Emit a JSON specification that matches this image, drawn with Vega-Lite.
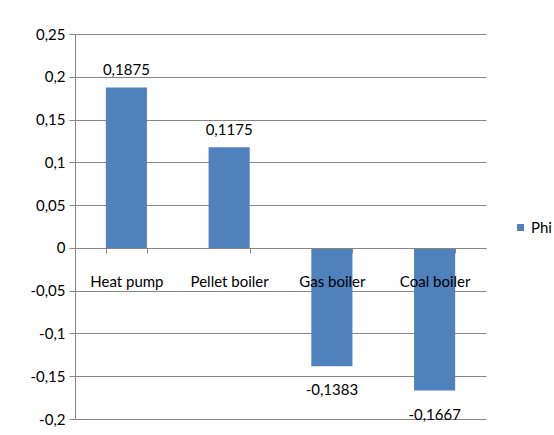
{
  "$schema": "https://vega.github.io/schema/vega-lite/v6.json",
  "width": 411,
  "height": 385,
  "autosize": {"type": "none"},
  "padding": {"left": 75, "top": 34, "right": 68, "bottom": 16},
  "background": "white",
  "config": {
    "locale": {"number": {"decimal": ",", "thousands": ".", "grouping": [3], "currency": ["", ""], "minus": "-"}},
    "view": {"stroke": null},
    "font": "Lato"
  },
  "data": {
    "values": [
      {"System": "Heat pump", "Phi": 0.1875, "Series": "Phi"},
      {"System": "Pellet boiler", "Phi": 0.1175, "Series": "Phi"},
      {"System": "Gas boiler", "Phi": -0.1383, "Series": "Phi"},
      {"System": "Coal boiler", "Phi": -0.1667, "Series": "Phi"}
    ]
  },
  "encoding": {
    "x": {
      "field": "System", "type": "nominal", "sort": null,
      "scale": {"paddingInner": 0.6, "paddingOuter": 0.3},
      "axis": {
        "title": null, "orient": "bottom", "offset": -171, "labelAngle": 0,
        "tickBand": "extent", "tickSize": 5, "labelPadding": 21,
        "labelFontSize": 15, "labelColor": "#000000",
        "domainColor": "#868686", "tickColor": "#868686", "grid": false, "zindex": 1
      }
    },
    "y": {
      "field": "Phi", "type": "quantitative",
      "scale": {"domain": [-0.2, 0.25], "nice": false},
      "axis": {
        "title": null, "values": [-0.2, -0.15, -0.1, -0.05, 0, 0.05, 0.1, 0.15, 0.2, 0.25],
        "format": "~r", "grid": true, "gridColor": "#868686", "domainColor": "#868686",
        "tickColor": "#868686", "tickSize": 6, "labelPadding": 4,
        "labelFontSize": 15, "labelColor": "#000000"
      }
    }
  },
  "layer": [
    {
      "mark": {"type": "bar"},
      "encoding": {
        "color": {
          "field": "Series", "type": "nominal",
          "scale": {"range": ["#4f81bd"]},
          "legend": {
            "title": null, "orient": "none", "legendX": 438, "legendY": 186,
            "symbolType": "square", "symbolSize": 49, "labelFontSize": 15,
            "labelColor": "#000000", "labelOffset": 3
          }
        }
      }
    },
    {
      "transform": [{"filter": "datum.Phi >= 0"}],
      "mark": {"type": "text", "baseline": "bottom", "dy": -9, "fontSize": 15, "color": "#000000"},
      "encoding": {"text": {"field": "Phi", "type": "quantitative", "format": ".4f"}}
    },
    {
      "transform": [{"filter": "datum.Phi < 0"}],
      "mark": {"type": "text", "baseline": "top", "dy": 17, "fontSize": 15, "color": "#000000"},
      "encoding": {"text": {"field": "Phi", "type": "quantitative", "format": ".4f"}}
    }
  ]
}
